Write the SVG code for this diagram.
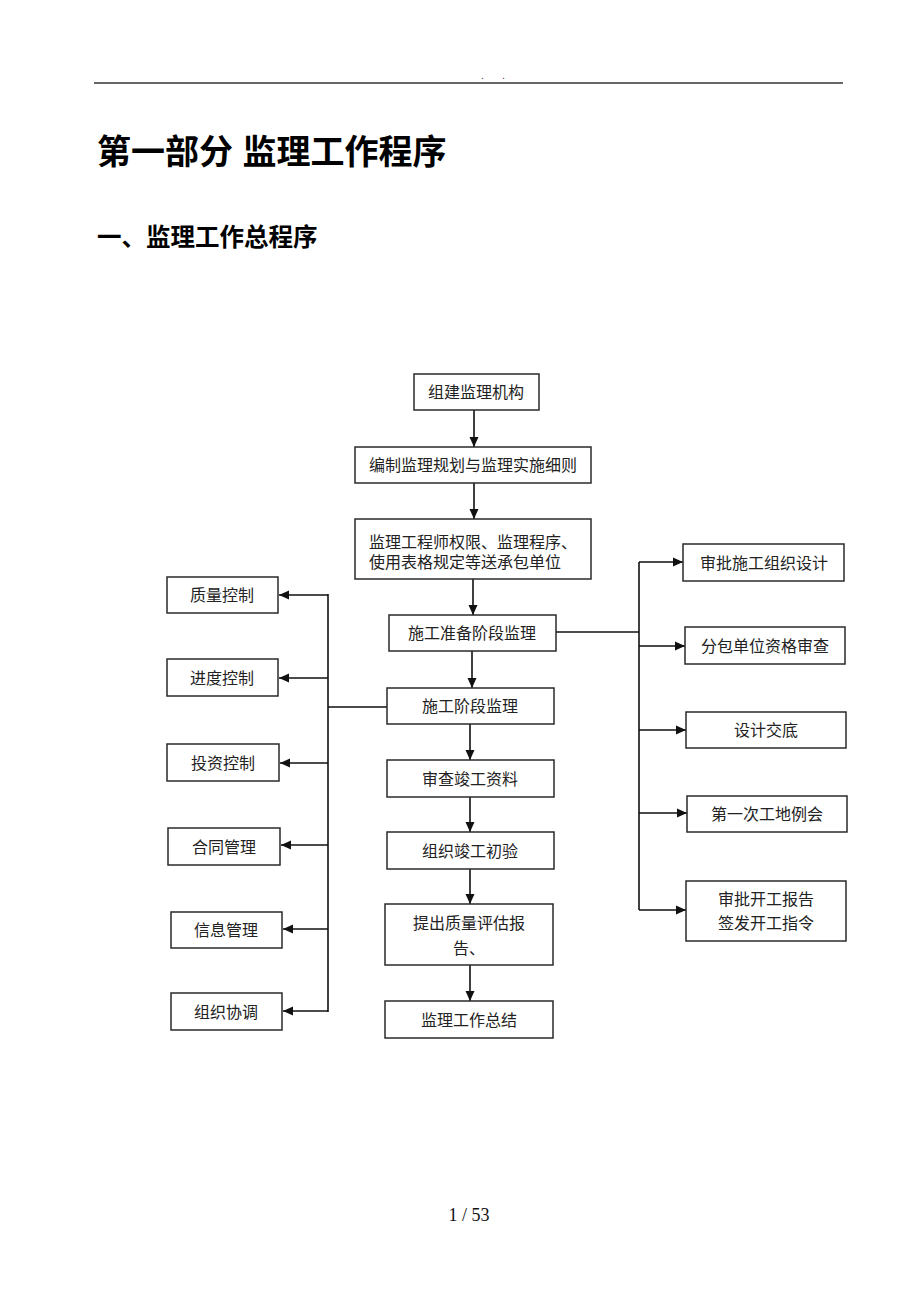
<svg xmlns="http://www.w3.org/2000/svg" width="920" height="1302" viewBox="0 0 920 1302">
<style>
.box{fill:#fff;stroke:#2a2a2a;stroke-width:1.5}
.t{font-family:"Liberation Serif","Noto Sans CJK SC",serif;font-size:16px;fill:#222;text-anchor:middle}
.ts{text-anchor:start}
.c{fill:none;stroke:#111;stroke-width:1.6}
.h1{font-family:"Liberation Sans","Noto Sans CJK SC",sans-serif;font-weight:bold;fill:#000}
</style>
<defs>
<marker id="ah" markerUnits="userSpaceOnUse" markerWidth="11" markerHeight="10" refX="10" refY="5" orient="auto">
<path d="M0,0.5 L10,5 L0,9.5 z" fill="#111"/>
</marker>
</defs>
<rect width="920" height="1302" fill="#fff"/>
<g id="header">
<line x1="94" y1="83" x2="843" y2="83" stroke="#333" stroke-width="1.5"/>
<text x="497" y="79" font-family="Liberation Serif,serif" font-size="10" text-anchor="middle" letter-spacing="8" fill="#333">. .</text>
</g>
<g id="titles">
<text class="h1" x="97" y="164" font-size="34">第一部分 监理工作程序</text>
<text class="h1" x="97" y="246" font-size="24.5">一、监理工作总程序</text>
</g>
<g id="connectors">
<path class="c" d="M474,410 V447" marker-end="url(#ah)"/>
<path class="c" d="M474,483 V519" marker-end="url(#ah)"/>
<path class="c" d="M473,579 V615" marker-end="url(#ah)"/>
<path class="c" d="M472,651 V688" marker-end="url(#ah)"/>
<path class="c" d="M470,724 V760" marker-end="url(#ah)"/>
<path class="c" d="M470,797 V832" marker-end="url(#ah)"/>
<path class="c" d="M470,869 V904" marker-end="url(#ah)"/>
<path class="c" d="M470,965 V1001" marker-end="url(#ah)"/>
<path class="c" d="M387,707 H328"/>
<path class="c" d="M328,594 V1012"/>
<path class="c" d="M328,595 H279" marker-end="url(#ah)"/>
<path class="c" d="M328,678 H279" marker-end="url(#ah)"/>
<path class="c" d="M328,763 H280" marker-end="url(#ah)"/>
<path class="c" d="M328,845 H281" marker-end="url(#ah)"/>
<path class="c" d="M328,929 H283" marker-end="url(#ah)"/>
<path class="c" d="M328,1011 H283" marker-end="url(#ah)"/>
<path class="c" d="M555,632 H639"/>
<path class="c" d="M639,562 V910"/>
<path class="c" d="M639,562 H683" marker-end="url(#ah)"/>
<path class="c" d="M639,646 H685" marker-end="url(#ah)"/>
<path class="c" d="M639,730 H686" marker-end="url(#ah)"/>
<path class="c" d="M639,813 H687" marker-end="url(#ah)"/>
<path class="c" d="M639,910 H686" marker-end="url(#ah)"/>
</g>
<g id="n1"><rect class="box" x="414" y="374" width="125" height="36"/><text class="t" x="476" y="398">组建监理机构</text></g>
<g id="n2"><rect class="box" x="355" y="447" width="236" height="36"/><text class="t" x="473" y="471">编制监理规划与监理实施细则</text></g>
<g id="n3"><rect class="box" x="355" y="519" width="236" height="60"/><text class="t ts" x="369" y="548">监理工程师权限、监理程序、</text><text class="t ts" x="369" y="568">使用表格规定等送承包单位</text></g>
<g id="n4"><rect class="box" x="389" y="615" width="167" height="36"/><text class="t" x="472" y="639">施工准备阶段监理</text></g>
<g id="n5"><rect class="box" x="387" y="688" width="167" height="36"/><text class="t" x="470" y="712">施工阶段监理</text></g>
<g id="n6"><rect class="box" x="387" y="760" width="167" height="37"/><text class="t" x="470" y="785">审查竣工资料</text></g>
<g id="n7"><rect class="box" x="387" y="832" width="167" height="37"/><text class="t" x="470" y="857">组织竣工初验</text></g>
<g id="n8"><rect class="box" x="385" y="904" width="168" height="61"/><text class="t" x="469" y="929">提出质量评估报</text><text class="t" x="469" y="954">告、</text></g>
<g id="n9"><rect class="box" x="385" y="1001" width="168" height="37"/><text class="t" x="469" y="1026">监理工作总结</text></g>
<g id="l1"><rect class="box" x="167" y="577" width="111" height="36"/><text class="t" x="222" y="601">质量控制</text></g>
<g id="l2"><rect class="box" x="167" y="659" width="111" height="37"/><text class="t" x="222" y="684">进度控制</text></g>
<g id="l3"><rect class="box" x="167" y="744" width="112" height="37"/><text class="t" x="223" y="769">投资控制</text></g>
<g id="l4"><rect class="box" x="168" y="828" width="112" height="37"/><text class="t" x="224" y="853">合同管理</text></g>
<g id="l5"><rect class="box" x="171" y="912" width="111" height="36"/><text class="t" x="226" y="936">信息管理</text></g>
<g id="l6"><rect class="box" x="171" y="993" width="111" height="37"/><text class="t" x="226" y="1018">组织协调</text></g>
<g id="r1"><rect class="box" x="683" y="544" width="161" height="37"/><text class="t" x="764" y="569">审批施工组织设计</text></g>
<g id="r2"><rect class="box" x="685" y="627" width="160" height="37"/><text class="t" x="765" y="652">分包单位资格审查</text></g>
<g id="r3"><rect class="box" x="686" y="712" width="160" height="36"/><text class="t" x="766" y="736">设计交底</text></g>
<g id="r4"><rect class="box" x="687" y="796" width="160" height="36"/><text class="t" x="767" y="820">第一次工地例会</text></g>
<g id="r5"><rect class="box" x="686" y="881" width="160" height="60"/><text class="t" x="766" y="905">审批开工报告</text><text class="t" x="766" y="929">签发开工指令</text></g>
<g id="footer"><text x="469" y="1221" font-family="Liberation Serif,serif" font-size="18" text-anchor="middle" fill="#111">1 / 53</text></g>
</svg>
